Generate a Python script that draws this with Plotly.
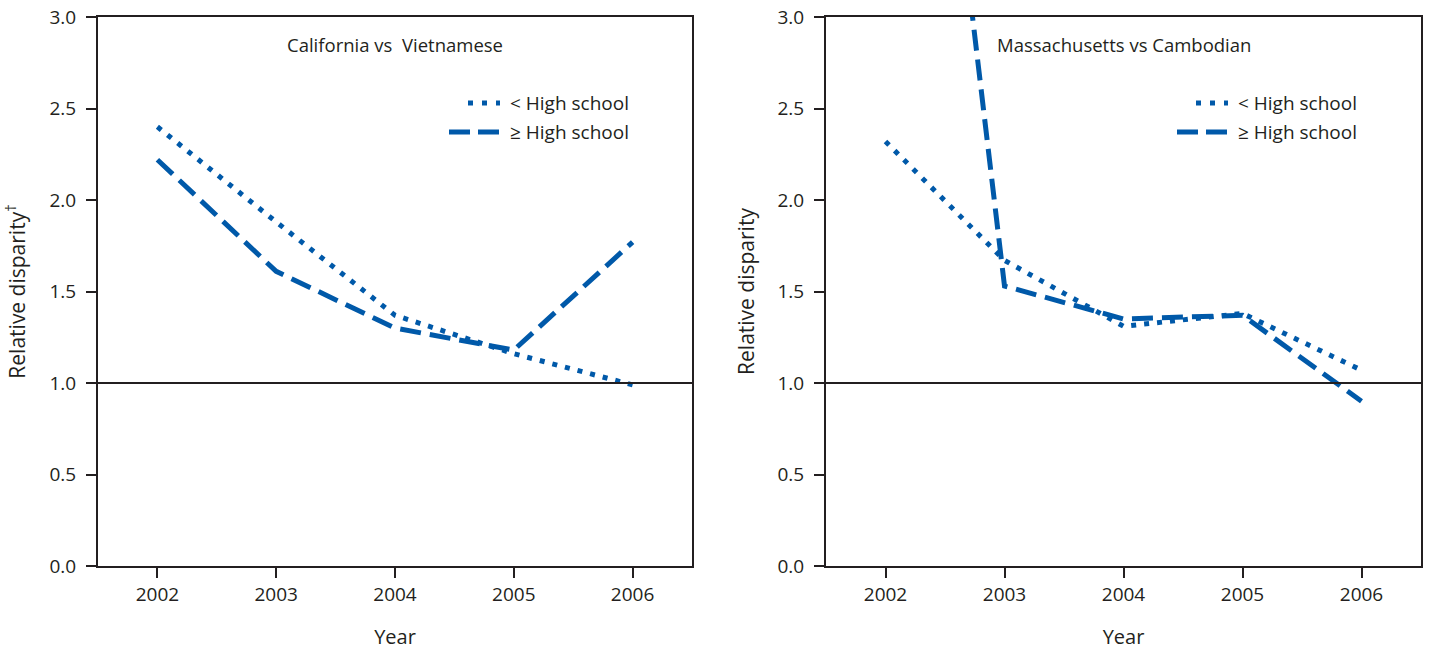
import plotly.graph_objects as go

years = [2002, 2003, 2004, 2005, 2006]

# California vs Vietnamese
ca_lt_hs = [2.40, 1.88, 1.37, 1.16, 0.99]
ca_ge_hs = [2.22, 1.61, 1.30, 1.18, 1.77]

# Massachusetts vs Cambodian
ma_lt_hs = [2.32, 1.67, 1.31, 1.38, 1.07]
ma_ge_hs = [7.0, 1.53, 1.35, 1.37, 0.90]

panel_titles = ["California vs  Vietnamese", "Massachusetts vs Cambodian"]
series_names = ["< High school", "≥ High school"]
y_titles = ["Relative disparity<sup>†</sup>", "Relative disparity"]
y_ticks = [0.0, 0.5, 1.0, 1.5, 2.0, 2.5, 3.0]

BLUE = "#0059A9"
INK = "#231F20"
FONT = "Open Sans"
W, H = 1430, 652
ML, MR, MT, MB = 98, 9, 17, 86
PW = W - ML - MR
PH = H - MT - MB

DOT = "5px,8px"
DASH = "21px,9px"
LW = 5

fig = go.Figure()

panels = [(ca_lt_hs, ca_ge_hs), (ma_lt_hs, ma_ge_hs)]
for i, (lt, ge) in enumerate(panels):
    xa = "x" if i == 0 else "x2"
    ya = "y" if i == 0 else "y2"
    fig.add_trace(go.Scatter(
        x=years, y=lt, mode="lines", name=series_names[0],
        line=dict(color=BLUE, width=LW, dash=DOT),
        xaxis=xa, yaxis=ya, showlegend=False))
    fig.add_trace(go.Scatter(
        x=years, y=ge, mode="lines", name=series_names[1],
        line=dict(color=BLUE, width=LW, dash=DASH),
        xaxis=xa, yaxis=ya, showlegend=False))

# panel pixel extents (screen coords)
panel_px = [(98, 692), (826, 1421)]
domains = [[(a - ML) / PW, (b - ML) / PW] for a, b in panel_px]

axis_common = dict(
    showline=True, linecolor=INK, linewidth=2, mirror=True,
    ticks="outside", ticklen=10, tickwidth=2, tickcolor=INK,
    showgrid=False, zeroline=False, automargin=False,
    ticklabeloverflow="allow",
    tickfont=dict(family=FONT, size=19, color=INK),
)

legend_rows = [
    (0, 370, "5px,9px", 103),
    (1, 351, "21px,8px", 132),
]
sample_end = 402
text_start = 410
y_title_standoff = [29, 17]

for i in range(2):
    sfx = "" if i == 0 else "2"
    pw = panel_px[i][1] - panel_px[i][0]
    fig.update_layout(**{
        f"xaxis{sfx}": dict(
            axis_common, domain=domains[i], range=[2001.5, 2006.5],
            tickvals=years, ticktext=[str(y) for y in years],
            anchor=f"y{sfx}",
            title=dict(text="Year", font=dict(family=FONT, size=20, color=INK), standoff=24),
        ),
        f"yaxis{sfx}": dict(
            axis_common, domain=[0, 1], range=[0, 3],
            tickvals=y_ticks, ticktext=[f"{v:.1f}" for v in y_ticks],
            anchor=f"x{sfx}", ticklabelstandoff=6,
            title=dict(text=y_titles[i], font=dict(family=FONT, size=21, color=INK),
                       standoff=y_title_standoff[i]),
        ),
    })
    fig.add_shape(type="line", xref=f"x{sfx} domain", yref=f"y{sfx}",
                  x0=0, x1=1, y0=1.0, y1=1.0,
                  line=dict(color=INK, width=2))
    fig.add_annotation(text=panel_titles[i], xref=f"x{sfx} domain", yref=f"y{sfx} domain",
                       x=0.5, y=1 - (44 - MT) / PH, yanchor="middle", showarrow=False,
                       font=dict(family=FONT, size=18.5, color=INK))
    for s, x0, dash, ry in legend_rows:
        yd = 1 - (ry - MT) / PH
        fig.add_shape(type="line", xref=f"x{sfx} domain", yref=f"y{sfx} domain",
                      x0=x0 / pw, x1=sample_end / pw, y0=yd, y1=yd,
                      line=dict(color=BLUE, width=LW, dash=dash))
        fig.add_annotation(text=series_names[s], xref=f"x{sfx} domain", yref=f"y{sfx} domain",
                           x=text_start / pw, y=yd, xanchor="left", yanchor="middle",
                           showarrow=False,
                           font=dict(family=FONT, size=19, color=INK))

fig.update_layout(
    width=W, height=H,
    margin=dict(l=ML, r=MR, t=MT, b=MB, autoexpand=False),
    paper_bgcolor="white", plot_bgcolor="white",
    showlegend=False,
)

fig.write_html("out.html", config={"displayModeBar": False},
               post_script="document.body.style.margin='0px';")
